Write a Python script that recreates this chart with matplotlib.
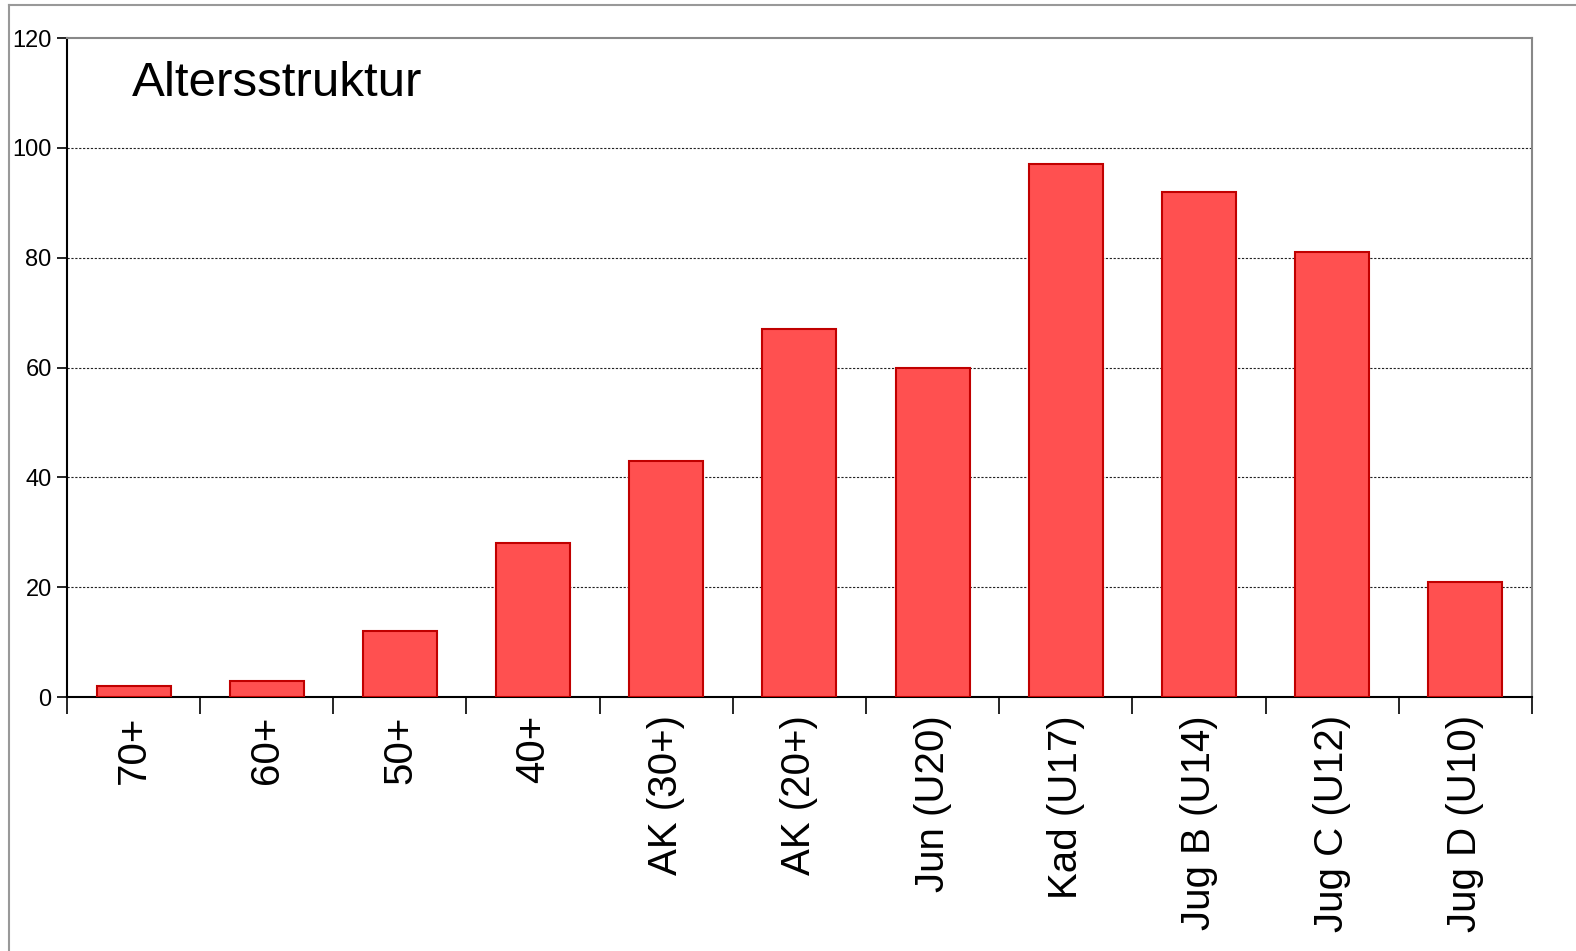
import matplotlib
matplotlib.use("Agg")
import matplotlib.pyplot as plt
from matplotlib.lines import Line2D

CATEGORIES = ["70+", "60+", "50+", "40+", "AK (30+)", "AK (20+)", "Jun (U20)",
              "Kad (U17)", "Jug B (U14)", "Jug C (U12)", "Jug D (U10)"]
COUNTS = [2, 3, 12, 28, 43, 67, 60, 97, 92, 81, 21]
Y_TICKS = [0, 20, 40, 60, 80, 100, 120]

plt.rcParams["font.family"] = ["Liberation Sans", "DejaVu Sans"]

fig = plt.figure(figsize=(15.76, 9.51), dpi=100)
ax = fig.add_axes([0.0425, 0.267, 0.9295, 0.693])

xs = list(range(len(CATEGORIES)))
ax.bar(xs, COUNTS, width=0.555, color="#FF5050", edgecolor="#C00000",
       linewidth=1.5, zorder=3)

ax.set_xlim(-0.5, len(CATEGORIES) - 0.5)
ax.set_ylim(0, 120)
ax.set_yticks(Y_TICKS)
ax.set_yticklabels([str(v) for v in Y_TICKS], fontsize=17)
ax.tick_params(axis="y", length=7, width=1.2, pad=4)

# category labels centred, tick marks at category boundaries
ax.set_xticks(xs)
ax.set_xticklabels(CATEGORIES, rotation=90, fontsize=29)
ax.tick_params(axis="x", which="major", length=0, pad=13)
ax.set_xticks([i - 0.5 for i in range(len(CATEGORIES) + 1)], minor=True)
ax.tick_params(axis="x", which="minor", length=12, width=1.2)

for v in Y_TICKS[1:-1]:
    ax.axhline(v, color="#222222", linestyle=(0, (2, 1.5)), linewidth=0.8, zorder=1)

ax.spines["left"].set_linewidth(1.5)
ax.spines["bottom"].set_linewidth(1.5)
for s in ("top", "right"):
    ax.spines[s].set_color("#888888")
    ax.spines[s].set_linewidth(1.5)

ax.text(0.044, 0.965, "Altersstruktur", transform=ax.transAxes, fontsize=35.5,
        ha="left", va="top")

# outer chart-area frame
fig.add_artist(Line2D([9 / 1576, 1.0], [1 - 5 / 951, 1 - 5 / 951],
                      transform=fig.transFigure, color="#999999", linewidth=1.5))
fig.add_artist(Line2D([9 / 1576, 9 / 1576], [0.0, 1 - 5 / 951],
                      transform=fig.transFigure, color="#999999", linewidth=1.5))

fig.savefig("out.png", dpi=100)
